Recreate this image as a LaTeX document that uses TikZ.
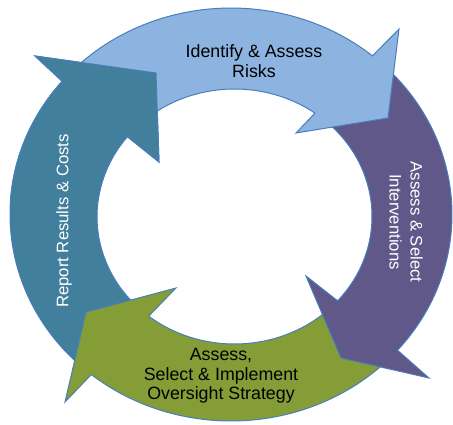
\documentclass[tikz,border=0pt]{standalone}
\usepackage{fontspec}
\setmainfont{Liberation Sans}

\definecolor{riskblue}{HTML}{8DB3E0}
\definecolor{selectpurple}{HTML}{605888}
\definecolor{oversightgreen}{HTML}{849D37}
\definecolor{reportteal}{HTML}{427F9D}
\definecolor{ringline}{HTML}{4A7EBB}

\tikzset{
  ringarrow/.style={draw=ringline, line width=1pt, line join=miter, miter limit=10},
  steplabel/.style={align=center, font=\fontsize{17.8}{19.5}\selectfont},
  sidelabel/.style={align=center, text=white, font=\fontsize{16.7}{21}\selectfont},
}

\begin{document}
\begin{tikzpicture}[x=1pt,y=-1pt]
  \useasboundingbox (0,0) rectangle (453,424);
  % centres of the outer and inner rims
  \coordinate (co) at (231,214.5);
  \coordinate (ci) at (234.5,216.5);

  % report arrow (left), its tail goes under the green head
  \draw[ringarrow, fill=reportteal]
    ([shift={(co)}]132:221 and 206.5)
      arc[start angle=132, end angle=220.2, x radius=221, y radius=206.5]
    -- (35,56) -- (156,73) -- (159,162)
    -- ([shift={(ci)}]218.8:137.5 and 127.5)
      arc[start angle=218.8, end angle=136, x radius=137.5, y radius=127.5]
    -- cycle;
  % oversight arrow (bottom)
  \draw[ringarrow, fill=oversightgreen]
    ([shift={(co)}]45:221 and 206.5)
      arc[start angle=45, end angle=129.2, x radius=221, y radius=206.5]
    -- (65,402) -- (86,312) -- (176,288)
    -- ([shift={(ci)}]128.6:137.5 and 127.5)
      arc[start angle=128.6, end angle=47, x radius=137.5, y radius=127.5]
    -- cycle;
  % interventions arrow (right)
  \draw[ringarrow, fill=selectpurple]
    ([shift={(co)}]-45:221 and 206.5)
      arc[start angle=-45, end angle=41.1, x radius=221, y radius=206.5]
    -- (429,378) -- (341,358) -- (306,276)
    -- ([shift={(ci)}]41.4:137.5 and 127.5)
      arc[start angle=41.4, end angle=-47, x radius=137.5, y radius=127.5]
    -- cycle;
  % risks arrow (top)
  \draw[ringarrow, fill=riskblue]
    ([shift={(co)}]-136:221 and 206.5)
      arc[start angle=-136, end angle=-50.2, x radius=221, y radius=206.5]
    -- (399,29) -- (388,118) -- (296,133)
    -- ([shift={(ci)}]-54.2:137.5 and 127.5)
      arc[start angle=-54.2, end angle=-128, x radius=137.5, y radius=127.5]
    -- cycle;
  % report head again, on top of the risks tail
  \begin{scope}
    \clip (0,0) rectangle (200,200);
    \draw[ringarrow, fill=reportteal]
      ([shift={(co)}]132:221 and 206.5)
        arc[start angle=132, end angle=220.2, x radius=221, y radius=206.5]
      -- (35,56) -- (156,73) -- (159,162)
      -- ([shift={(ci)}]218.8:137.5 and 127.5)
        arc[start angle=218.8, end angle=136, x radius=137.5, y radius=127.5]
      -- cycle;
  \end{scope}

  % labels
  \node[steplabel] (identify) at (254,61) {Identify \& Assess\\Risks};
  \node[steplabel] (oversight) at (221,376) {Assess,\\Select \& Implement\\Oversight Strategy};
  \node[sidelabel, rotate=-90] (interventions) at (406,222) {Assess \& Select\\Interventions};
  \node[sidelabel, rotate=90] (report) at (64,221) {Report Results \& Costs};
\end{tikzpicture}
\end{document}
